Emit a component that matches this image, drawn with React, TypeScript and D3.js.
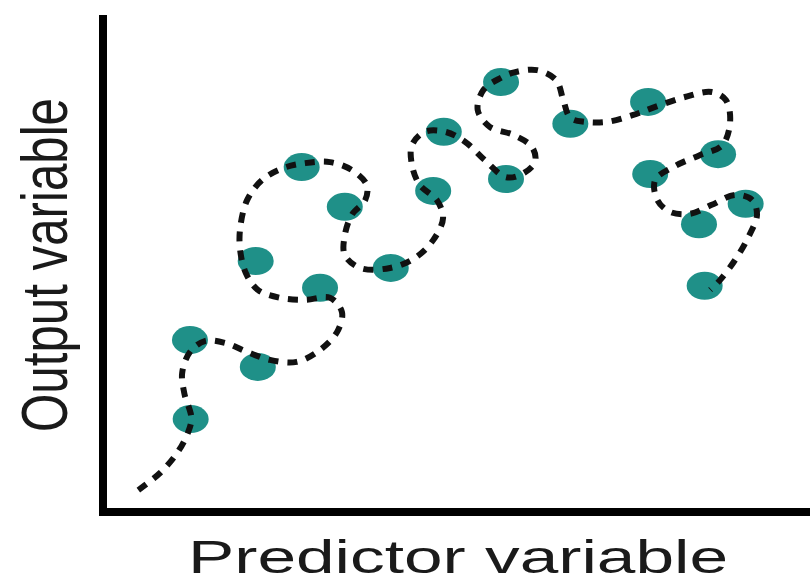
import React from "react";
import * as d3 from "d3";

const W = 810;
const H = 578;

// observed data points (0..100 units)
const pointX = [12.4, 12.3, 21.9, 21.6, 28.1, 34.2, 30.7, 40.7, 46.7, 48.2, 57.0, 56.3, 66.1, 77.1, 77.4, 87.0, 90.9, 84.3, 85.1];
const pointY = [18.7, 34.6, 29.2, 50.5, 69.4, 61.4, 45.1, 49.1, 64.6, 76.5, 67.0, 86.5, 78.1, 82.5, 68.0, 72.0, 62.0, 57.9, 45.5];

// overfitted curve path (0..100 units)
const curveX = [
  5.0, 8.1, 10.5, 12.0, 12.5, 11.5, 11.2, 12.3, 14.4, 17.3, 20.4, 23.6, 27.4, 30.7, 33.1, 33.8, 32.1, 28.6, 25.0, 21.9,
  20.2, 19.4, 19.4, 20.4, 22.5, 25.5, 28.6, 32.1, 35.2, 37.3, 37.1, 35.2, 34.2, 34.2, 36.4, 40.6, 44.1, 46.7, 48.1, 47.2,
  44.8, 43.7, 43.7, 45.5, 48.4, 51.2, 54.0, 56.9, 59.0, 61.1, 60.7, 58.0, 54.7, 53.0, 53.8, 56.2, 58.3, 61.4, 64.1, 65.1,
  66.1, 68.2, 71.3, 75.0, 78.1, 82.3, 86.1, 88.1, 88.7, 87.6, 84.4, 80.9, 78.1, 78.4, 80.2, 83.0, 86.1, 89.4, 91.8, 92.5,
  91.2, 89.4, 87.3, 85.9,
];
const curveY = [
  4.4, 7.9, 11.9, 15.9, 18.9, 23.9, 28.0, 32.2, 34.4, 34.0, 32.2, 30.6, 30.2, 32.6, 36.2, 40.2, 43.1, 42.7, 43.1, 44.7,
  48.1, 52.7, 57.1, 62.8, 66.8, 69.2, 70.2, 70.4, 68.8, 65.8, 62.8, 59.8, 55.7, 51.7, 49.1, 49.1, 51.1, 54.7, 59.2, 62.8,
  65.8, 69.8, 73.8, 76.5, 76.5, 74.5, 70.8, 67.4, 67.8, 70.4, 73.4, 75.9, 77.5, 80.9, 84.9, 87.3, 88.5, 88.9, 86.9, 82.9,
  79.3, 78.5, 78.5, 79.9, 81.5, 83.5, 84.5, 82.9, 78.5, 73.8, 71.8, 69.6, 66.8, 62.8, 60.4, 60.0, 61.8, 63.8, 62.8, 59.8,
  55.1, 50.7, 46.7, 44.7,
];

const xLabel = "Predictor variable";
const yLabel = "Output variable";

export default function App() {
  const x = d3.scaleLinear().domain([0, 100]).range([103, 810]);
  const y = d3.scaleLinear().domain([0, 100]).range([512, 15]);

  const curvePts: [number, number][] = curveX.map((v, i) => [v, curveY[i]]);
  const line = d3
    .line<[number, number]>()
    .x((d) => x(d[0]))
    .y((d) => y(d[1]))
    .curve(d3.curveCatmullRom.alpha(0.5));

  return (
    <svg width={W} height={H} style={{ position: "absolute", left: 0, top: 0, background: "#fff" }}>
      <rect x={0} y={0} width={W} height={H} fill="#fff" />
      {/* axes */}
      <line x1={x(0)} y1={y(100)} x2={x(0)} y2={y(0) + 4} stroke="#000" strokeWidth={8} />
      <line x1={x(0) - 4} y1={y(0)} x2={x(100)} y2={y(0)} stroke="#000" strokeWidth={8} />
      {/* points */}
      {pointX.map((v, i) => (
        <ellipse key={i} cx={x(v)} cy={y(pointY[i])} rx={18} ry={14} fill="#1f9088" />
      ))}
      {/* curve */}
      <path
        d={line(curvePts) || ""}
        fill="none"
        stroke="#111"
        strokeWidth={6}
        strokeDasharray="10 9"
        strokeLinecap="butt"
      />
      {/* labels */}
      <text
        x={458}
        y={573}
        fontFamily="Liberation Sans, Arial, sans-serif"
        fontSize={46}
        textAnchor="middle"
        fill="#1a1a1a"
        textLength={540}
        lengthAdjust="spacingAndGlyphs"
      >
        {xLabel}
      </text>
      <text
        transform="translate(67,265) rotate(-90)"
        fontFamily="Liberation Sans, Arial, sans-serif"
        fontSize={64}
        textAnchor="middle"
        fill="#1a1a1a"
        textLength={334}
        lengthAdjust="spacingAndGlyphs"
      >
        {yLabel}
      </text>
    </svg>
  );
}
